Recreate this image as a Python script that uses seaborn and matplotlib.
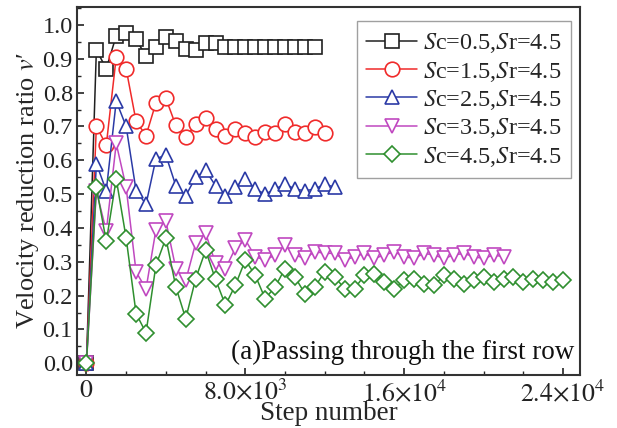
import numpy as np
import pandas as pd
import seaborn as sns
import matplotlib
matplotlib.use("Agg")
import matplotlib.pyplot as plt
from matplotlib.ticker import MultipleLocator, FuncFormatter

# Sampling interval of the monitored velocity (steps)
STEP = 500

sc05 = [0.0, 0.926, 0.871, 0.968, 0.975, 0.957, 0.908, 0.936, 0.963, 0.953,
        0.928, 0.926, 0.946, 0.948, 0.936, 0.934, 0.934, 0.934, 0.934, 0.934,
        0.934, 0.934, 0.934, 0.934]
sc15 = [0.0, 0.700, 0.645, 0.905, 0.870, 0.715, 0.673, 0.770, 0.783, 0.703,
        0.668, 0.706, 0.726, 0.693, 0.673, 0.693, 0.680, 0.668, 0.683, 0.680,
        0.706, 0.683, 0.680, 0.698, 0.680]
sc25 = [0.0, 0.590, 0.510, 0.775, 0.700, 0.510, 0.470, 0.605, 0.615, 0.525,
        0.495, 0.550, 0.570, 0.525, 0.495, 0.520, 0.545, 0.515, 0.500, 0.515,
        0.530, 0.515, 0.510, 0.515, 0.530, 0.520]
sc35 = [0.0, 0.510, 0.390, 0.650, 0.520, 0.270, 0.220, 0.395, 0.420, 0.280,
        0.245, 0.355, 0.385, 0.295, 0.280, 0.340, 0.365, 0.315, 0.305, 0.320,
        0.350, 0.320, 0.310, 0.330, 0.325, 0.325, 0.305, 0.315, 0.325, 0.310,
        0.320, 0.330, 0.315, 0.310, 0.325, 0.320, 0.310, 0.320, 0.325, 0.315,
        0.310, 0.320, 0.315]
sc45 = [0.0, 0.520, 0.360, 0.545, 0.370, 0.147, 0.090, 0.290, 0.370, 0.226,
        0.132, 0.250, 0.334, 0.248, 0.172, 0.231, 0.305, 0.260, 0.191, 0.226,
        0.280, 0.255, 0.206, 0.226, 0.270, 0.255, 0.221, 0.221, 0.260, 0.265,
        0.240, 0.220, 0.245, 0.250, 0.235, 0.230, 0.260, 0.250, 0.235, 0.245,
        0.255, 0.240, 0.250, 0.255, 0.240, 0.250, 0.245, 0.240, 0.245]

labels = [r"$\mathit{S}$c=0.5,$\mathit{S}$r=4.5",
          r"$\mathit{S}$c=1.5,$\mathit{S}$r=4.5",
          r"$\mathit{S}$c=2.5,$\mathit{S}$r=4.5",
          r"$\mathit{S}$c=3.5,$\mathit{S}$r=4.5",
          r"$\mathit{S}$c=4.5,$\mathit{S}$r=4.5"]
colors = ["#202020", "#f02a2a", "#2b3aa6", "#c048c0", "#2f8f2f"]
markers = ["s", "o", "^", "v", "D"]
msizes = [9.5, 10.5, 10.5, 10.5, 8.0]

xticks = [0, 8000, 16000, 24000]
xtick_labels = [r"$0$", r"$8.0{\times}10^{3}$", r"$1.6{\times}10^{4}$", r"$2.4{\times}10^{4}$"]

sns.set_style("ticks")
plt.rcParams["font.family"] = ["Liberation Serif", "DejaVu Serif"]
plt.rcParams["mathtext.fontset"] = "stix"

fig = plt.figure(figsize=(6.17, 4.28), dpi=100)
ax = fig.add_axes([0.1248, 0.1227, 0.8152, 0.8617])

for vals, lab, col, mk, ms in zip([sc05, sc15, sc25, sc35, sc45], labels, colors, markers, msizes):
    df = pd.DataFrame({"step": np.arange(len(vals)) * STEP, "v": vals})
    sns.lineplot(data=df, x="step", y="v", ax=ax, color=col, marker=mk,
                 markersize=ms, mfc="white", mec=col, mew=1.2, lw=1.1,
                 errorbar=None, label=lab)

ax.set_xlim(-475, 24850)
ax.set_ylim(-0.036, 1.054)

ax.xaxis.set_major_locator(MultipleLocator(8000))
ax.xaxis.set_minor_locator(MultipleLocator(2000))
ax.xaxis.set_major_formatter(FuncFormatter(
    lambda v, p: dict(zip(xticks, xtick_labels)).get(int(round(v)), "")))
ax.yaxis.set_major_locator(MultipleLocator(0.1))
ax.yaxis.set_minor_locator(MultipleLocator(0.05))
ax.yaxis.set_major_formatter(FuncFormatter(lambda v, p: f"{v:.1f}"))

ax.tick_params(axis="both", which="major", direction="in", length=5, width=1.2,
               pad=3, colors="#222222")
ax.tick_params(axis="x", which="major", labelsize=18.5)
ax.tick_params(axis="y", which="major", labelsize=17.5)
ax.tick_params(axis="both", which="minor", direction="in", length=3, width=1.0)
ax.tick_params(top=False, right=False, which="both")
for s in ax.spines.values():
    s.set_visible(True)
    s.set_linewidth(1.5)
    s.set_color("#333333")

ax.set_xlabel("Step number", fontsize=19.5, labelpad=-4)
ax.set_ylabel("Velocity reduction ratio $v$\u2032", fontsize=19, labelpad=1)

ax.text(0.988, 0.045, "(a)Passing through the first row", transform=ax.transAxes,
        ha="right", va="baseline", fontsize=19.5, color="#111111")

leg = ax.legend(loc="upper right", bbox_to_anchor=(0.983, 0.96), fontsize=17.5,
                frameon=True, fancybox=False, edgecolor="#888888",
                handlelength=2.1, handletextpad=0.25, labelspacing=0.18,
                borderpad=0.4, borderaxespad=0.0)
leg.get_frame().set_linewidth(1.0)

fig.savefig("out.png", dpi=100)
